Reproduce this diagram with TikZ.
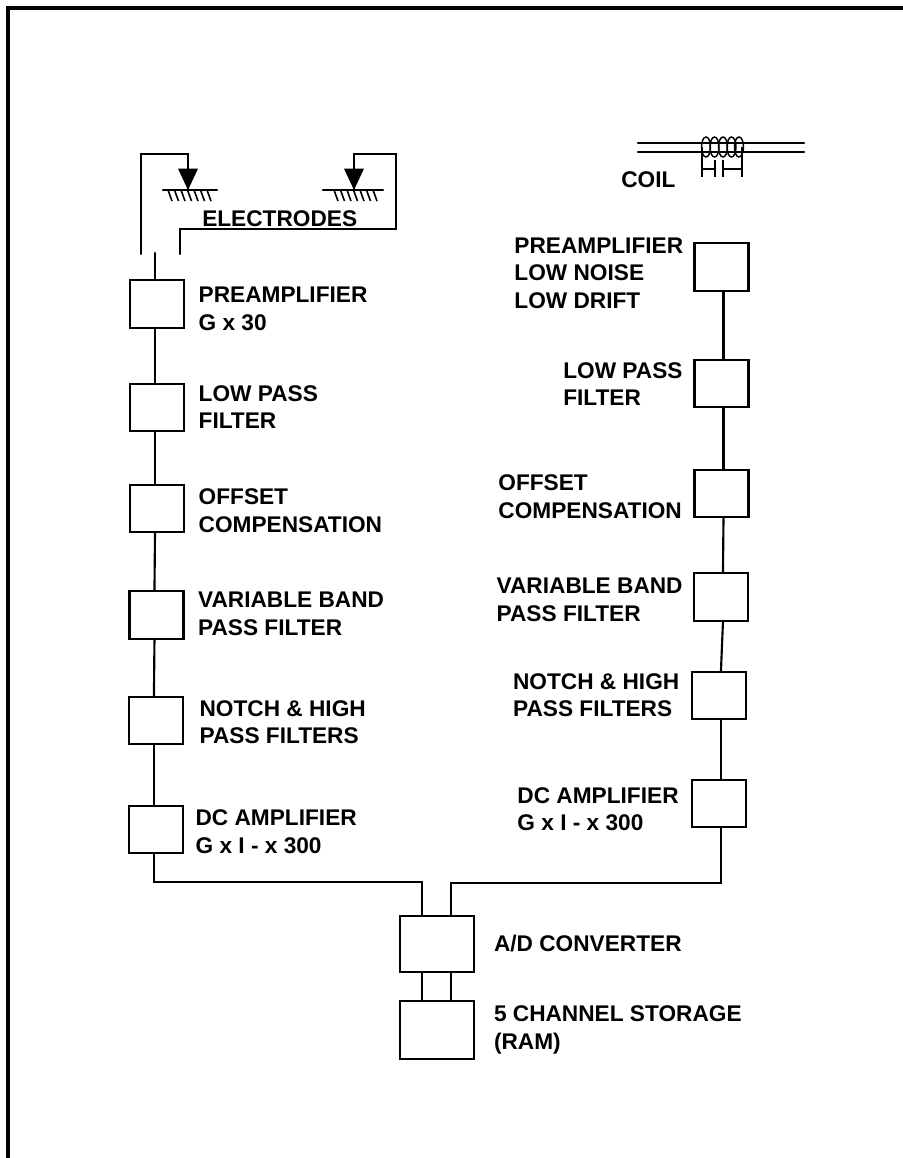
\documentclass[tikz,border=0pt]{standalone}
\usepackage{fontspec}
\setmainfont{Liberation Sans}
\usepackage{tikz}
\usetikzlibrary{arrows.meta, positioning}
\tikzset{
	blk/.style ={rectangle, draw=black, line width=1.6pt, minimum width=40.5pt, minimum height=35.4pt, inner sep=0pt},
	lbl/.style ={inner sep=0pt, align=left, font=\bfseries\fontsize{17}{20.6}\selectfont},
	wire/.style={line width=1.6pt, line cap=round, line join=miter},
	tip/.style ={-{Triangle[length=16pt, width=15pt]}},
	% earth line with its hatching
	earth/.pic={
		\draw[wire] (-25,0) -- (29,0);
		\foreach \hx in {-20,-13.5,-7,-0.5,6,12.5,19} \draw[line width=1.2pt] (\hx,0) -- ++(4,11);
	},
}
\begin{document}
\begin{tikzpicture}[x=0.75pt, y=-0.75pt]
	\useasboundingbox (0,0) rectangle (903,1158);
	\coordinate (fa) at (8,1158); \coordinate (fb) at (8,8); \coordinate (fc) at (903,8);
	\draw[line width=2.6pt, line join=miter] (fa) -- (fb) -- (fc);
	% left channel
	\node[blk] at (157,304) (pre1) {};
	\node[blk, below=40.5pt of pre1] (lp1) {};
	\node[blk, below=39pt of lp1] (off1) {};
	\node[blk, below=42.75pt of off1, xshift=-0.4pt] (var1) {};
	\node[blk, below=42pt of var1, xshift=-0.4pt] (not1) {};
	\node[blk, below=45pt of not1] (dc1) {};
	\node[lbl, right=10pt of pre1, yshift=-3.7pt] (tpre1) {PREAMPLIFIER\\G x 30};
	\node[lbl, right=10pt of lp1] (tlp1) {LOW PASS\\FILTER};
	\node[lbl, right=10pt of off1, yshift=-1.5pt] (toff1) {OFFSET\\COMPENSATION};
	\node[lbl, right=10pt of var1, yshift=1pt] (tvar1) {VARIABLE BAND\\PASS FILTER};
	\node[lbl, right=11.5pt of not1, yshift=-1.5pt] (tnot1) {NOTCH \& HIGH\\PASS FILTERS};
	\node[lbl, right=8.5pt of dc1, yshift=-1.5pt] (tdc1) {DC AMPLIFIER\\G x I - x 300};
	\draw[wire] ([xshift=-1.5pt]pre1.south) -- ([xshift=-1.5pt]lp1.north);
	\draw[wire] ([xshift=-1.5pt]lp1.south) -- ([xshift=-1.5pt]off1.north);
	\draw[wire] ([xshift=-1.5pt]off1.south) -- ([xshift=-1.5pt]var1.north);
	\draw[wire] ([xshift=-1.5pt]var1.south) -- ([xshift=-1.5pt]not1.north);
	\draw[wire] ([xshift=-1.5pt]not1.south) -- ([xshift=-1.5pt]dc1.north);
	% right channel
	\node[blk] at (721.5,267) (pre2) {};
	\node[blk, below=50.25pt of pre2] (lp2) {};
	\node[blk, below=45.75pt of lp2] (off2) {};
	\node[blk, below=40.5pt of off2, xshift=-0.4pt] (var2) {};
	\node[blk, below=36.75pt of var2, xshift=-1.5pt] (not2) {};
	\node[blk, below=44.25pt of not2] (dc2) {};
	\node[lbl, left=7.5pt of pre2, yshift=-4.5pt] (tpre2) {PREAMPLIFIER\\LOW NOISE\\LOW DRIFT};
	\node[lbl, left=8pt of lp2, yshift=-0.7pt] (tlp2) {LOW PASS\\FILTER};
	\node[lbl, left=8.5pt of off2, yshift=-2.2pt] (toff2) {OFFSET\\COMPENSATION};
	\node[lbl, left=7.5pt of var2, yshift=-2.2pt] (tvar2) {VARIABLE BAND\\PASS FILTER};
	\node[lbl, left=8.5pt of not2] (tnot2) {NOTCH \& HIGH\\PASS FILTERS};
	\node[lbl, left=9pt of dc2, yshift=-4pt] (tdc2) {DC AMPLIFIER\\G x I - x 300};
	\draw[wire] ([xshift=1.5pt]pre2.south) -- ([xshift=1.5pt]lp2.north);
	\draw[wire] ([xshift=1.5pt]lp2.south) -- ([xshift=1.5pt]off2.north);
	\draw[wire] ([xshift=1.5pt]off2.south) -- ([xshift=1.5pt]var2.north);
	\draw[wire] ([xshift=1.5pt]var2.south) -- ([xshift=1.5pt]not2.north);
	\draw[wire] ([xshift=1.5pt]not2.south) -- ([xshift=1.5pt]dc2.north);
	% converter and storage
	\node[blk, minimum width=55.5pt, minimum height=42pt] at (437,944) (ad) {};
	\node[blk, minimum width=55.5pt, minimum height=43.5pt, below=20.25pt of ad] (ram) {};
	\node[lbl, right=14pt of ad] (tad) {A/D CONVERTER};
	\node[lbl, right=14pt of ram] (tram) {5 CHANNEL STORAGE\\(RAM)};
	\draw[wire] ([xshift=-11.25pt]ad.south) -- ([xshift=-11.25pt]ram.north);
	\draw[wire] ([xshift=10.5pt]ad.south) -- ([xshift=10.5pt]ram.north);
	\draw[wire] ([xshift=-1.5pt]dc1.south) -- ++(0,28) -| ([xshift=-11.25pt]ad.north);
	\draw[wire] ([xshift=1.5pt]dc2.south) -- ++(0,55) -| ([xshift=10.5pt]ad.north);
	% electrodes
	\coordinate (el1) at (188,190); \coordinate (el2) at (354,190); \coordinate (el3) at (323,190);
	\coordinate (ea) at (141,254); \coordinate (eb) at (180,254); \coordinate (ec) at (155,253);
	\pic at (el1) {earth}; \pic at (el2) {earth};
	\node[lbl, anchor=west] at (202,219) (telec) {ELECTRODES};
	\draw[wire] (ea) |- (188,154) -- (el1);
	\draw[wire] (eb) |- (396,229) |- (354,154) -- (el2);
	\draw[wire] (ec) -- (ec |- pre1.north);
	\draw[wire] (el3) -- (el2);
	\draw[tip, line width=0pt] (188,170) -- (el1);
	\draw[tip, line width=0pt] (354,170) -- (el2);
	% coil
	\coordinate (ca) at (638,143); \coordinate (cb) at (804,143); \coordinate (cc) at (638,152); \coordinate (cd) at (804,152);
	\draw[wire] (ca) -- (cb); \draw[wire] (cc) -- (cd);
	\foreach \cx in {706,714.5,723,731.5,739} \draw[line width=1.1pt] (\cx,147) ellipse (4.5 and 10);
	\draw[line width=1.1pt] (702,147) -- (702,177) (715,160) -- (715,177) (702,169) -- (715,169);
	\draw[line width=1.1pt] (723,160) -- (723,177) (742,147) -- (742,177) (723,169) -- (742,169);
	\node[lbl, anchor=west] at (621,180) (tcoil) {COIL};
\end{tikzpicture}
\end{document}
